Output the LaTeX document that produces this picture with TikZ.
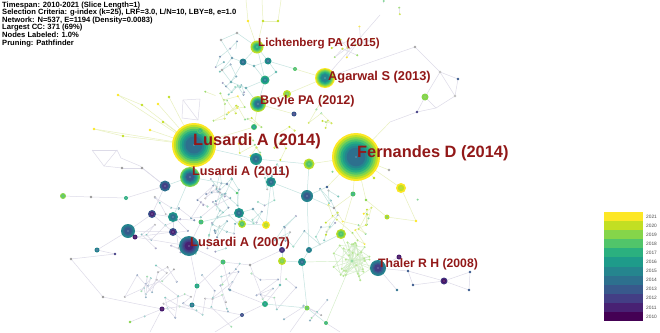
\documentclass[tikz,border=0pt]{standalone}
\usepackage{fontspec}
\setmainfont{Liberation Sans}
\definecolor{v0}{HTML}{440154}
\definecolor{v1}{HTML}{482173}
\definecolor{v2}{HTML}{433E85}
\definecolor{v3}{HTML}{38598C}
\definecolor{v4}{HTML}{2D708E}
\definecolor{v5}{HTML}{25858E}
\definecolor{v6}{HTML}{1E9B8A}
\definecolor{v7}{HTML}{2BB07F}
\definecolor{v8}{HTML}{51C56A}
\definecolor{v9}{HTML}{85D54A}
\definecolor{v10}{HTML}{C2DF23}
\definecolor{v11}{HTML}{FDE725}
\definecolor{labred}{HTML}{921818}
\definecolor{eg}{HTML}{DDDBE8}
\definecolor{et}{HTML}{C4E3E0}
\definecolor{ey}{HTML}{E8F0BE}
\definecolor{egr}{HTML}{D2EDC6}
\tikzset{
  edgeg/.style={draw=eg, line width=0.5pt},
  edget/.style={draw=et, line width=0.5pt},
  edgey/.style={draw=ey, line width=0.5pt},
  edgegr/.style={draw=egr, line width=0.45pt},
  lab/.style={text=labred, anchor=west, inner sep=0pt},
}
\pgfmathdeclarerandomlist{cmid}{{v3!70!white}{v4!70!white}{v5!65!white}{v6!60!white}{black!30}{v2!50!white}{v7!55!white}}
\pgfmathdeclarerandomlist{cyel}{{v9!80!white}{v10!80!white}{v11}{v8!70!white}{v10}}
\pgfmathdeclarerandomlist{clow}{{black!35}{v4!55!white}{v6!55!white}{v3!55!white}{v8!55!white}}
\newcommand\ringnode[4]{%
  \pgfmathtruncatemacro\ringn{#3-#4}%
  \foreach \ringk in {0,...,\ringn}{%
    \pgfmathtruncatemacro\ringc{#3-\ringk}%
    \pgfmathsetmacro\ringr{#2*(1-0.7*\ringk/(\ringn+1))}%
    \fill[v\ringc] (#1) circle[radius=\ringr];%
  }%
  \fill[white!60!v3] (#1) circle[radius=0.55];%
}
\newcommand\dotwalk[8]{%
  \pgfmathsetmacro\wkx{#2+(#3-#2)*rnd}\xdef\wkx{\wkx}%
  \pgfmathsetmacro\wky{#4+(#5-#4)*rnd}\xdef\wky{\wky}%
  \foreach \k in {1,...,#1}{%
    \pgfmathsetmacro\wnx{\wkx+#6*rand}%
    \pgfmathsetmacro\wny{\wky+#6*rand}%
    \pgfmathparse{(\wnx>#2)*(\wnx<#3)*(\wny>#4)*(\wny<#5)}%
    \ifdim\pgfmathresult pt>0.5pt
      \draw[#7] (\wkx,\wky) -- (\wnx,\wny);%
    \else
      \pgfmathsetmacro\wnx{#2+(#3-#2)*rnd}%
      \pgfmathsetmacro\wny{#4+(#5-#4)*rnd}%
    \fi
    \pgfmathrandomitem\wdc{#8}%
    \fill[\wdc] (\wnx,\wny) circle[radius=1.1];%
    \xdef\wkx{\wnx}\xdef\wky{\wny}%
  }%
}
\begin{document}
\begin{tikzpicture}[x=1pt,y=-1pt]
\fill[white] (0,0) rectangle (660,332);
\useasboundingbox (0,0) rectangle (660,332);
\pgfmathsetseed{1234}
% ---------- coordinates ----------
\foreach \nm/\px/\py in {
 L14/194/145, FD/356/157, AG/325/78, LI/257/47, BO/258/104, L11/190/177, L07/189/246, TH/378/268, GS/352/261,
 t1/243/62, t2/268/61, t3/265/80, t4/254/66, t5/232/58, t6/221/40, t7/237/33, t8/231/82, t9/246/88, t10/222/70, t11/276/72,
 g1/295/69, y1/287/94, b1/294/114, g2/254/127, g3/200/131,
 y2/248/21, y3/263/21, y4/278/21, tp1/246/0, tp2/262/0, tp3/281/0,
 ur1/425/97, ur2/417/112, ur3/458/79, ur4/440/72, ur5/455/96, ur6/436/108, ur7/415/47, ur9/380/15, fu1/390/122,
 yf1/118/95, yf2/142/105, yf3/158/104, yf4/169/97, yf5/94/129, yf6/123/136, yf7/150/130, yf8/163/122,
 q1/183/100, q2/200/99, q3/198/120, q4/182/118,
 tr1/92/150, tr2/117/150, tr3/104/166, tr4/121/158, tr5/140/166, tr6/122/168, tr7/142/168,
 f1/63/196, f2/91/197, f3/126/198, f4/97/250, f5/115/254, f6/71/259,
 m1/256/159, m2/165/186, m3/271/182, m4/309/164, m5/307/196, m6/152/214, m7/173/217, m8/128/231, m9/173/232,
 m10/135/237, m11/239/213, m12/242/224, m13/266/225, m14/201/222, m15/282/250, m16/282/261, m17/302/262,
 m18/309/250, m19/237/193, m20/227/184, m21/253/209,
 r1/327/187, r2/353/194, r3/401/188, r4/387/217, r5/416/221, r6/341/234, r7/334/208, r8/374/178, r9/389/170, r10/366/200,
 th1/399/257, th2/408/271, th3/413/285, th4/444/281, th5/470/272, th6/469/290, th7/397/290,
 lo1/223/262, lo2/250/265, lo3/197/286, lo4/162/309, lo5/192/305, lo6/265/304, lo7/242/315, lo8/307/308, lo9/326/323,
 lo10/103/297, lo11/130/322, lo12/230/290, lo13/280/285,
 bt1/150/332, bt2/215/332, bt3/290/332, bt4/340/332}
 {\coordinate (\nm) at (\px,\py);}
% ---------- random faint background network ----------
\dotwalk{80}{200}{340}{162}{258}{16}{edget}{cmid}
\dotwalk{40}{135}{235}{185}{255}{16}{edgeg}{cmid}
\dotwalk{70}{70}{345}{258}{330}{22}{edgeg}{clow}
\dotwalk{45}{200}{335}{85}{160}{15}{edgey}{cyel}
\dotwalk{25}{325}{425}{170}{245}{16}{edgey}{cyel}
\dotwalk{18}{215}{290}{30}{95}{12}{edget}{cmid}
\dotwalk{15}{285}{400}{0}{65}{20}{edgeg}{cyel}
% ---------- explicit edges ----------
\foreach \a/\b in {LI/t1, LI/t2, LI/t3, t1/t4, t4/t2, t1/t5, t5/t6, t6/t7, t7/LI, t1/t8, t8/t9, t9/t3, t3/BO, t4/t3,
 t2/t11, t11/t3, t5/t10, t10/t8, t2/g1, t9/BO,
 L14/L11, L14/m1, m1/m3, m1/m4, L11/m2, L11/m20, m20/m19, m19/m11, m11/m14, m11/m12, m12/m13, m13/m3, m3/m5, m5/m4,
 m11/m21, m21/m13, m7/L11, m15/m16, m16/m17, m17/m18, m18/m5, m18/r6, lo8/m17, lo6/lo8, lo8/lo9, r1/m5, r7/m5}
 {\draw[edget] (\a) -- (\b);}
\foreach \a/\b in {LI/y2, LI/y3, y3/y4, y2/tp1, y3/tp2, y4/tp3, AG/g1, AG/y1, y1/BO, BO/g2, g2/L14, L14/g3,
 L14/yf1, L14/yf2, L14/yf3, L14/yf4, L14/yf5, L14/yf6, L14/yf7, L14/yf8, yf1/yf2, yf5/yf6,
 m4/FD, FD/r1, FD/r2, FD/r3, FD/r8, FD/r9, FD/r10, r10/r4, r3/r5, r4/r5, r6/r2, r2/r7, FD/fu1, BO/b1}
 {\draw[edgey] (\a) -- (\b);}
\foreach \a/\b in {q1/q2, q2/q3, q3/q4, q4/q1, q1/q3, AG/ur7, AG/ur9, fu1/ur2, ur2/ur1, ur1/ur4, ur4/ur3, ur3/ur5,
 ur5/ur6, ur6/ur1, ur4/ur5, ur7/ur4, ur6/ur2,
 tr1/tr2, tr2/tr3, tr3/tr1, tr2/tr4, tr4/tr5, tr5/m2, tr3/tr6, tr6/tr7, tr7/m2, m2/f3, f3/f2, f2/f1,
 m2/m6, m6/m8, m6/m7, m7/m9, m9/L07, m8/m10, m10/L07, m8/f4, f4/f5, f5/f6, m6/m9, m8/m9, m10/m9,
 L07/lo3, L07/m14, L07/lo1, lo1/lo2, lo2/m15, lo3/lo5, lo5/lo4, lo4/lo10, lo10/f6, lo3/lo1, lo6/lo7, lo6/lo2,
 lo7/lo5, lo4/bt1, lo7/bt2, lo8/bt3, lo9/bt4, lo4/lo11, lo12/lo1, lo12/lo6, lo13/lo6, lo13/m16,
 TH/th1, TH/th2, th2/th3, th2/th4, th4/th5, th5/th6, th3/th4, TH/th7, th6/th4}
 {\draw[edgeg] (\a) -- (\b);}
\foreach \a/\b in {m17/GS, r6/GS, GS/TH, lo9/GS}
 {\draw[edgegr] (\a) -- (\b);}
% ---------- green star cluster ----------
\foreach \k in {1,...,34}{%
  \pgfmathsetmacro\gsa{360*rnd}%
  \pgfmathsetmacro\gsr{4+17*sqrt(rnd)}%
  \path (GS) ++(\gsa:\gsr) coordinate (gs\k);
  \draw[edgegr] (GS) -- (gs\k);
}
\foreach \k in {2,...,34}{%
  \pgfmathtruncatemacro\kp{\k-1}%
  \draw[edgegr] (gs\k) -- (gs\kp);
}
\foreach \k in {1,...,34}{\fill[v9!60!white] (gs\k) circle[radius=1.1];}
\fill[v8!60!white] (GS) circle[radius=1.6];
% ---------- small dots ----------
\foreach \nm/\cl in {t4/v5!70!white, t5/v4!70!white, t6/black!35, t7/black!35, t8/v5!70!white, t9/v5!70!white,
 t10/black!35, t11/v6!70!white, y2/v11, y3/v10, y4/v10, ur2/v2, ur3/v3, ur7/black!35, ur4/black!25, ur5/black!25,
 yf1/v11, yf2/v10, yf3/v11, yf4/v10, yf5/v11, yf6/v10, yf7/v11, yf8/v10, tr6/black!40, tr7/black!40,
 f2/black!40, f5/v2, f6/black!40, m19/v8, m20/v3!70!white, m21/v4!70!white, r1/v3, r5/v11, r7/black!40,
 r8/v10, r9/black!35, r10/v9, th2/v3, th3/v3, th5/v3, th6/v3, th7/v4, lo2/black!40, lo10/black!40,
 lo11/v9, lo12/v4!70!white, lo13/v6!70!white}
 {\fill[\cl] (\nm) circle[radius=1.3];}
% ---------- ring nodes ----------
\foreach \rnm/\rrad/\rout/\rin in {L14/22/11/4, FD/24/11/4, AG/10/11/5, LI/6.5/10/7, BO/8/10/4, L11/10/9/3,
 L07/10/5/1, TH/8/5/2, m1/6/6/4, m2/5.5/4/2, m3/5/6/4, m4/5.5/10/8, m5/6/5/3, m6/4/3/1, m7/5/6/4, m8/7/5/3,
 m9/4/3/1, m10/2.5/1/0, m11/5/6/4, m12/4/10/8, m13/4/11/10, m14/2.5/8/7, m15/3/2/1, m16/4/10/9, m17/4/6/4,
 m18/3/5/4, t1/3.5/5/4, t2/3.5/6/4, t3/4.5/7/5, g1/2/8/8, y1/4/10/9, b1/2.5/3/2, g2/3/8/6, g3/3/8/7,
 ur1/3.5/9/9, f1/3/9/8, f3/2/7/7, f4/2.5/5/4, r2/2.5/8/7, r3/5/11/10, r4/2.5/10/9, r6/5/10/8, th1/2.5/1/0,
 th4/3.5/2/0, lo1/2.5/8/7, lo3/2.5/7/6, lo4/2.5/1/0, lo5/2.5/5/4, lo6/3/7/6, lo7/2/3/2, lo8/2.5/9/8, lo9/2/8/7}
 {\ringnode{\rnm}{\rrad}{\rout}{\rin}}
% ---------- labels ----------
\node[lab, font=\bfseries\fontsize{11.6}{12}\selectfont] (labLI) at (258,44) {Lichtenberg PA (2015)};
\node[lab, font=\bfseries\fontsize{12.8}{13}\selectfont] (labAG) at (328,77) {Agarwal S (2013)};
\node[lab, font=\bfseries\fontsize{12.6}{13}\selectfont] (labBO) at (260,101) {Boyle PA (2012)};
\node[lab, font=\bfseries\fontsize{16.4}{17}\selectfont] (labL14) at (193,141.5) {Lusardi A (2014)};
\node[lab, font=\bfseries\fontsize{16.4}{17}\selectfont] (labFD) at (357,153.5) {Fernandes D (2014)};
\node[lab, font=\bfseries\fontsize{12.6}{13}\selectfont] (labL11) at (192,172) {Lusardi A (2011)};
\node[lab, font=\bfseries\fontsize{12.8}{13}\selectfont] (labL07) at (190,243) {Lusardi A (2007)};
\node[lab, font=\bfseries\fontsize{12.2}{13}\selectfont] (labTH) at (378,264) {Thaler R H (2008)};
% ---------- header ----------
\node[anchor=north west, align=left, inner sep=0pt, font=\bfseries\fontsize{7.6}{7.6}\selectfont] (hdr) at (2,1.4)
 {Timespan: 2010-2021 (Slice Length=1)\\
  Selection Criteria: g-index (k=25), LRF=3.0, L/N=10, LBY=8, e=1.0\\
  Network: N=537, E=1194 (Density=0.0083)\\
  Largest CC: 371 (69\%)\\
  Nodes Labeled: 1.0\%\\
  Pruning: Pathfinder};
% ---------- legend ----------
\foreach \lk in {0,...,11}{%
  \pgfmathsetmacro\lyb{321-9.083*\lk}%
  \pgfmathsetmacro\lyt{321-9.083*(\lk+1)}%
  \pgfmathsetmacro\lym{321-9.083*(\lk+0.5)}%
  \pgfmathtruncatemacro\lyr{2010+\lk}%
  \fill[v\lk] (604,\lyt) rectangle (643,\lyb);
  \node[anchor=west, inner sep=0pt, text=black!70, font=\fontsize{4.8}{5}\selectfont] (leg\lk) at (646,\lym) {\lyr};
}
\end{tikzpicture}
\end{document}
